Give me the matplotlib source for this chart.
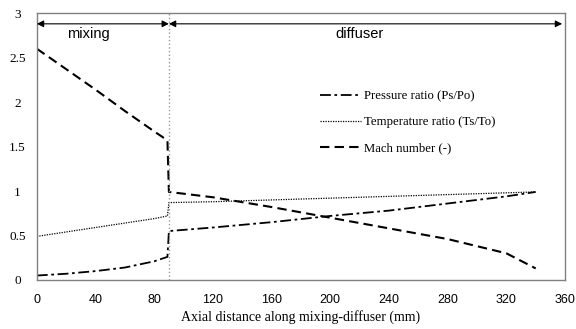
import numpy as np
import matplotlib.pyplot as plt

# mixing section (0-89 mm) and diffuser section (90-340 mm)
x_mix = [0, 20, 40, 60, 80, 89]
x_dif = [90, 120, 160, 200, 240, 280, 320, 340]

mach_mix = [2.6, 2.37, 2.14, 1.9, 1.67, 1.57]
mach_dif = [0.99, 0.93, 0.82, 0.70, 0.58, 0.46, 0.30, 0.13]
temp_mix = [0.49, 0.54, 0.59, 0.64, 0.69, 0.72]
temp_dif = [0.87, 0.88, 0.90, 0.92, 0.94, 0.96, 0.98, 0.99]
pres_mix = [0.05, 0.07, 0.10, 0.14, 0.21, 0.26]
pres_dif = [0.55, 0.59, 0.65, 0.72, 0.78, 0.86, 0.94, 0.99]

x_all = x_mix + x_dif
mach = mach_mix + mach_dif
temp = temp_mix + temp_dif
pres = pres_mix + pres_dif

serif = 'Liberation Serif'
sans = 'Liberation Sans'

fig = plt.figure(figsize=(5.76, 3.29), dpi=100)
ax = fig.add_axes([0.064, 0.149, 0.917, 0.811])

ax.plot(x_all, pres, c='k', ls=(0, (6, 2, 1.5, 2)), lw=1.3, label='Pressure ratio (Ps/Po)')
ax.plot(x_all, temp, c='k', ls=(0, (1, 1)), lw=0.9, label='Temperature ratio (Ts/To)')
ax.plot(x_all, mach, c='k', ls=(0, (4.5, 2.5)), lw=1.5, label='Mach number (-)')

ax.axvline(90, c='#999999', ls=':', lw=1)

# section arrows
arr = dict(arrowstyle='<|-|>', color='k', lw=0.8, mutation_scale=10, shrinkA=0, shrinkB=0)
ax.annotate('', xy=(0, 2.88), xytext=(90, 2.88), arrowprops=arr)
ax.annotate('', xy=(90, 2.88), xytext=(358, 2.88), arrowprops=arr)
ax.text(35, 2.77, 'mixing', family=sans, fontsize=10.5, ha='center', va='center')
ax.text(220, 2.77, 'diffuser', family=sans, fontsize=10.5, ha='center', va='center')

ax.set_xlim(0, 360)
ax.set_ylim(0, 3)
ax.set_xticks(np.arange(0, 361, 40))
ax.set_yticks([0, 0.5, 1, 1.5, 2, 2.5, 3])
ax.set_yticklabels(['0', '0.5', '1', '1.5', '2', '2.5', '3'])
for t in ax.get_xticklabels():
    t.set_family(sans)
    t.set_fontsize(9)
for t in ax.get_yticklabels():
    t.set_family(serif)
    t.set_fontsize(9.5)
    t.set_horizontalalignment('center')
ax.tick_params(length=0)
ax.tick_params(axis='x', pad=10)
ax.tick_params(axis='y', pad=14)
for s in ax.spines.values():
    s.set_color('#808080')
    s.set_linewidth(1)

ax.set_xlabel('Axial distance along mixing-diffuser (mm)', family=serif, fontsize=10, labelpad=3)

ax.legend(loc='upper left', bbox_to_anchor=(0.515, 0.755), frameon=False,
          prop={'family': serif, 'size': 9.2}, handlelength=3.2, handletextpad=0.2,
          labelspacing=1.1)

fig.savefig('out.png', dpi=100)
